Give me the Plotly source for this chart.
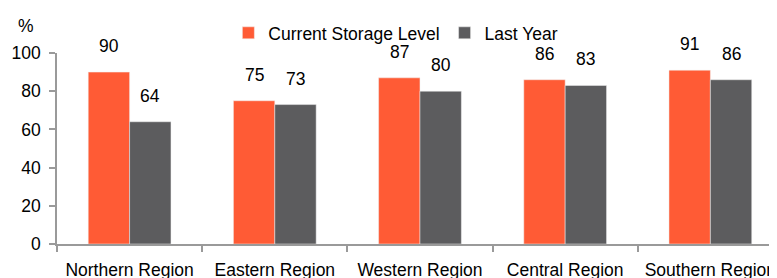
import plotly.graph_objects as go

categories = ["Northern Region", "Eastern Region", "Western Region", "Central Region", "Southern Region"]
current_level = [90, 75, 87, 86, 91]
last_year = [64, 73, 80, 83, 86]
series_names = ["Current Storage Level", "Last Year"]
y_ticks = [0, 20, 40, 60, 80, 100]

FONT = "Liberation Sans, Arial, sans-serif"
ORANGE = "#FF5B35"
GRAY = "#5C5C5E"
FS = 17.5

fig = go.Figure()
fig.add_trace(go.Bar(x=categories, y=current_level, name=series_names[0],
                     marker=dict(color=ORANGE, line=dict(width=0.5, color="#f0f0f0"))))
fig.add_trace(go.Bar(x=categories, y=last_year, name=series_names[1],
                     marker=dict(color=GRAY, line=dict(width=0.5, color="#f0f0f0"))))

annotations = []
for i, cat in enumerate(categories):
    for vals, off in ((current_level, -0.143), (last_year, 0.143)):
        annotations.append(dict(x=i + off, y=vals[i], xref="x", yref="y",
                                text=str(vals[i]), showarrow=False,
                                xanchor="center", yanchor="bottom", yshift=14,
                                font=dict(family=FONT, size=FS, color="#000")))
annotations.append(dict(x=-0.043, y=1.14, xref="paper", yref="paper", text="%",
                        showarrow=False, xanchor="center", yanchor="middle",
                        font=dict(family=FONT, size=FS, color="#000")))

# page body has an 8px margin, so the figure is 8px smaller and margins shifted
fig.update_layout(
    width=769, height=270,
    margin=dict(l=49, r=0, t=45, b=34),
    paper_bgcolor="white", plot_bgcolor="white",
    barmode="group", bargap=0.43, bargroupgap=0,
    font=dict(family=FONT, size=FS, color="#000"),
    showlegend=True,
    legend=dict(orientation="h", x=0.238, y=1.105, xanchor="left", yanchor="middle",
                font=dict(family=FONT, size=FS, color="#000"), bgcolor="rgba(0,0,0,0)",
                traceorder="normal"),
    annotations=annotations,
    xaxis=dict(type="category", range=[-0.5, 4.459], tickson="boundaries",
               showline=True, linecolor="#9a9a9a", linewidth=1.5,
               ticks="outside", ticklen=6, tickcolor="#9a9a9a", tickwidth=1.5,
               showgrid=False, automargin=False, tickangle=0, ticklabelstandoff=9),
    yaxis=dict(range=[0, 100], tickvals=y_ticks, showline=True, linecolor="#9a9a9a",
               linewidth=1.5, ticks="outside", ticklen=6, tickcolor="#9a9a9a",
               tickwidth=1.5, showgrid=False, zeroline=False, automargin=False,
               ticklabelstandoff=5),
)

fig.write_html("out.html")
